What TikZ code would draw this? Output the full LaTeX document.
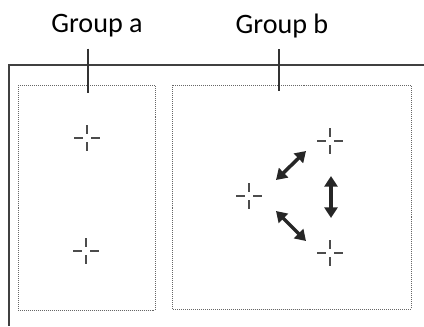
\documentclass[tikz,border=0pt]{standalone}
\usepackage{fontspec}
\setmainfont{Carlito}
\usetikzlibrary{arrows.meta}

\begin{document}
\begin{tikzpicture}[x=0.03cm, y=-0.03cm, every node/.style={font=\fontsize{24}{27}\selectfont},
    crossln/.style={black!70, line width=1.1pt},
    dotbox/.style={black!60, densely dotted, line width=0.7pt},
    frameln/.style={black!75, line width=1pt},
    tickln/.style={black!80, line width=1pt},
    dblarrow/.style={{Triangle[length=9pt,width=11pt]}-{Triangle[length=9pt,width=11pt]}, black!85, line width=3pt},
    crosshair/.pic={\draw[crossln] (-13,0) -- (-4,0) (4,0) -- (13,0) (0,-13) -- (0,-4) (0,4) -- (0,13);}]

\useasboundingbox (0,0) rectangle (424,326);

% =============================================
% MARCO EXTERIOR
% =============================================
\draw[frameln] (424,65) -- (9,65) -- (9,326);

% =============================================
% GRUPO A
% =============================================
\node (grpA) at (97,26) {Group a};
\draw[dotbox] (18,85) rectangle (155,310);
\coordinate (tickA) at (88,93);
\draw[tickln] (grpA.south) ++(-9,7) coordinate (topA) -- (tickA);

% Puntos
\coordinate (a1) at (87,138);
\coordinate (a2) at (86,251);
\pic at (a1) {crosshair};
\pic at (a2) {crosshair};

% =============================================
% GRUPO B
% =============================================
\node (grpB) at (282,26) {Group b};
\draw[dotbox] (172,85) rectangle (411,309);
\coordinate (tickB) at (279,91);
\draw[tickln] (grpB.south) ++(-3,7) coordinate (topB) -- (tickB);

% Puntos
\coordinate (b1) at (249,196);
\coordinate (b2) at (330,141);
\coordinate (b3) at (330,253);
\pic at (b1) {crosshair};
\pic at (b2) {crosshair};
\pic at (b3) {crosshair};

% Flechas
\coordinate (u1) at (276,180);
\coordinate (u2) at (306,151);
\coordinate (l1) at (276,211);
\coordinate (l2) at (306,241);
\coordinate (v1) at (331,176);
\coordinate (v2) at (331,218);
\draw[dblarrow] (u1) -- (u2);
\draw[dblarrow] (l1) -- (l2);
\draw[dblarrow] (v1) -- (v2);

\end{tikzpicture}
\end{document}
